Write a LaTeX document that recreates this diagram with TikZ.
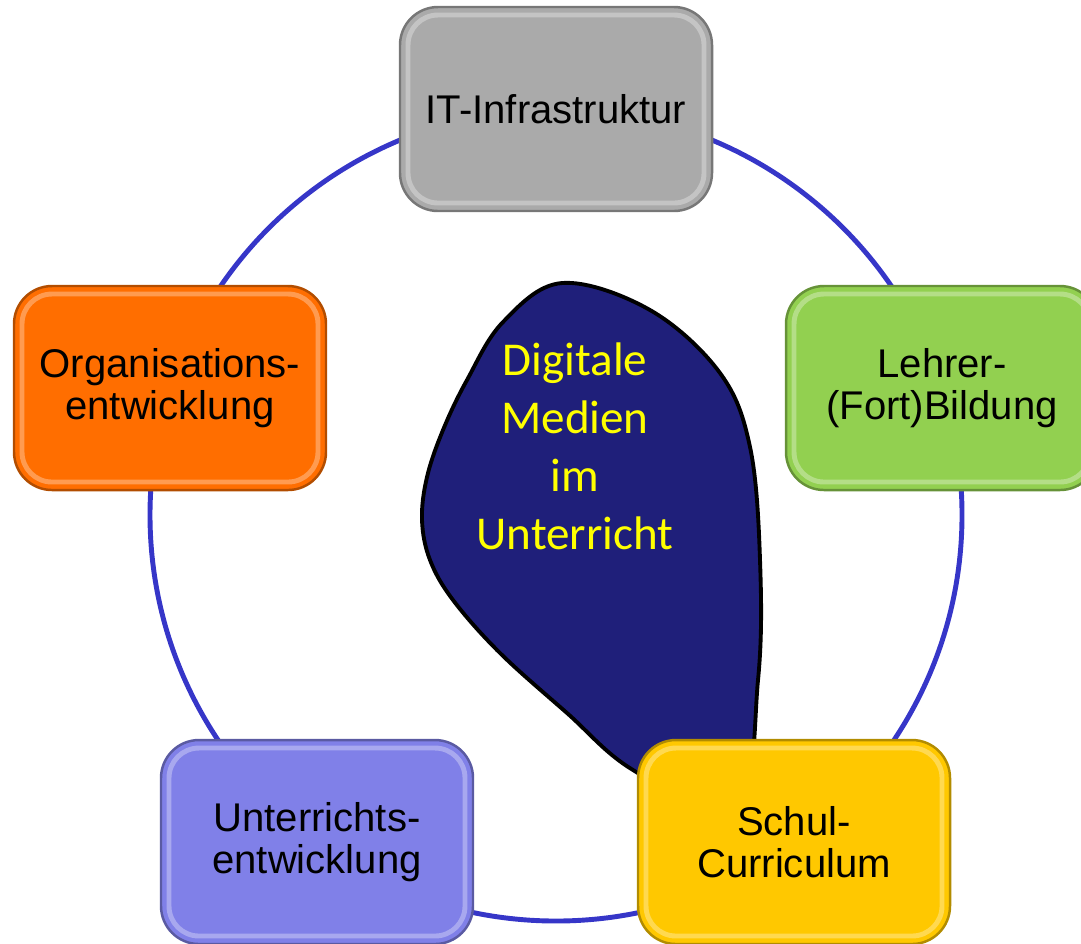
\documentclass[tikz,border=0pt]{standalone}
\usepackage{fontspec}
\setmainfont{Liberation Sans}
\newfontfamily\calibri{Carlito}
\usetikzlibrary{positioning}

\definecolor{itgray}{HTML}{AAAAAA}
\definecolor{orgaorange}{HTML}{FF6E00}
\definecolor{lehrgreen}{HTML}{92D050}
\definecolor{schulyellow}{HTML}{FFC800}
\definecolor{untlavender}{HTML}{8080E8}
\definecolor{blobnavy}{HTML}{1F1F7A}
\definecolor{ringblue}{HTML}{3636C8}
\definecolor{medienyellow}{HTML}{FFFF00}

\begin{document}
\begin{tikzpicture}

\tikzset{
    box/.style={rectangle, rounded corners=0.38cm, minimum width=3.12cm,
        minimum height=2.04cm, align=center, text=black, line width=0.7pt,
        font=\fontsize{11.4}{12}\selectfont,
        draw=#1!70!black, fill=#1,
        path picture={\draw[#1!55!white, opacity=0.7, line width=1.4pt, rounded corners=0.3cm]
            ([shift={(0.08,-0.08)}]path picture bounding box.north west) rectangle
            ([shift={(-0.08,0.08)}]path picture bounding box.south east);}},
    ring/.style={draw=ringblue, line width=1.4pt},
    blob/.style={fill=blobnavy, draw=black, line width=1.1pt}
}
% variables
\def\rad{4.06}
\def\cx{5.56}
\def\cy{-5.15}

\useasboundingbox (0,0) rectangle (10.81,-9.43);

% ----------- ring ----------- %
\coordinate (mid) at (\cx,\cy);
\draw[ring] (mid) circle (\rad);

% ----------- middle blob ----------- %
\draw[blob] plot[smooth cycle, tension=0.6] coordinates {
    (5.62,-2.83) (6.50,-3.10) (7.20,-3.73) (7.50,-4.47) (7.60,-5.60)
    (7.58,-6.80) (7.35,-8.15)
    (6.33,-7.70) (5.67,-7.13) (5.00,-6.53) (4.53,-6.00) (4.30,-5.60)
    (4.22,-5.20) (4.27,-4.77) (4.43,-4.30) (4.67,-3.80) (5.03,-3.22)};
\node[align=center, text=medienyellow, font=\calibri\fontsize{13.4}{16.5}\selectfont]
    (medien) at (5.75,-4.46) {Digitale\\Medien\\im\\Unterricht};

% ------------ boxes ---------%
\node[box=itgray] (it) at (5.56,-1.09) {IT-Infrastruktur};
\node[box=lehrgreen] (lehrer) at (9.42,-3.88) {Lehrer-\\(Fort)Bildung};
\node[box=schulyellow] (schul) at (7.94,-8.42) {Schul-\\Curriculum};
\node[box=untlavender] (unterricht) at (3.17,-8.42) {Unterrichts-\\entwicklung};
\node[box=orgaorange] (orga) at (1.70,-3.88) {Organisations-\\entwicklung};

\end{tikzpicture}
\end{document}
